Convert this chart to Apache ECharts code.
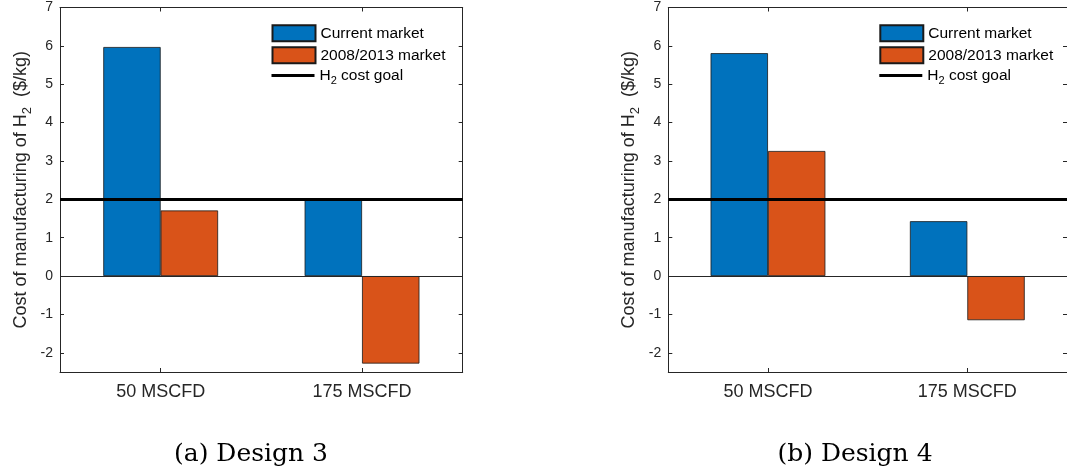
<!DOCTYPE html>
<html><head><meta charset="utf-8">
<script src="https://cdn.jsdelivr.net/npm/echarts@6/dist/echarts.min.js"></script>
<style>html,body{margin:0;padding:0;background:#fff}#c{width:1067px;height:474px}</style>
</head><body><div id="c"></div>
<script>
const categories = ['50 MSCFD', '175 MSCFD'];
const design3Current = [5.97, 2.0];
const design3Past = [1.71, -2.28];
const design4Current = [5.81, 1.43];
const design4Past = [3.26, -1.15];
const goalValue = 2;
const yTicks = [-2, -1, 0, 1, 2, 3, 4, 5, 6, 7];
const captions = ['(a) Design 3', '(b) Design 4'];
const nameCurrent = 'Current market';
const namePast = '2008/2013 market';
const nameGoal = 'H2 cost goal';

const FONT = 'Liberation Sans';
const AX = '#262626';
const BLUE = '#0072BD';
const ORANGE = '#D95319';

const grids = [
  {left: 60, top: 7.5, width: 402.7, height: 364.5},
  {left: 668.3, top: 7.5, width: 403.4, height: 364.5}
];

function xAxes(gi) {
  return [
    {type: 'category', gridIndex: gi, position: 'bottom', data: categories,
     axisLine: {show: true, onZero: false, lineStyle: {color: AX, width: 1}},
     axisTick: {show: true, inside: true, length: 4, alignWithLabel: true, lineStyle: {color: AX}},
     axisLabel: {fontSize: 18, color: AX, margin: 11, fontFamily: FONT},
     splitLine: {show: false}},
    {type: 'category', gridIndex: gi, position: 'top', data: categories,
     axisLine: {show: true, onZero: false, lineStyle: {color: AX, width: 1}},
     axisTick: {show: true, inside: true, length: 4, alignWithLabel: true, lineStyle: {color: AX}},
     axisLabel: {show: false}, splitLine: {show: false}}
  ];
}
function yAxes(gi) {
  return [
    {type: 'value', gridIndex: gi, position: 'left', min: -2.5, max: 7,
     name: '{n|Cost of manufacturing of H}{s|2}{n|  ($/kg)}',
     nameLocation: 'middle', nameGap: 29, nameRotate: 90,
     nameTextStyle: {color: AX, fontFamily: FONT,
       rich: {n: {fontSize: 18, fontFamily: FONT, color: AX, lineHeight: 19, verticalAlign: 'top'},
              s: {fontSize: 13, fontFamily: FONT, color: AX, lineHeight: 13, verticalAlign: 'top', padding: [9, 0, 0, 0]}}},
     axisLine: {show: true, onZero: false, lineStyle: {color: AX, width: 1}},
     axisTick: {show: true, inside: true, length: 4, customValues: yTicks, lineStyle: {color: AX}},
     axisLabel: {fontSize: 14, color: AX, margin: 7, fontFamily: FONT, customValues: yTicks},
     splitLine: {show: false}},
    {type: 'value', gridIndex: gi, position: 'right', min: -2.5, max: 7,
     axisLine: {show: true, onZero: false, lineStyle: {color: AX, width: 1}},
     axisTick: {show: true, inside: true, length: 4, customValues: yTicks, lineStyle: {color: AX}},
     axisLabel: {show: false}, splitLine: {show: false}}
  ];
}

function seriesFor(gi, cur, past) {
  const xi = gi * 2, yi = gi * 2;
  const barCommon = {type: 'bar', xAxisIndex: xi, yAxisIndex: yi, barWidth: 57.4, barGap: '0%',
    emphasis: {disabled: true}, silent: true};
  return [
    Object.assign({}, barCommon, {name: nameCurrent, data: cur,
      itemStyle: {color: BLUE, borderColor: '#1a1a1a', borderWidth: 0.8},
      markLine: {silent: true, symbol: ['none', 'none'], label: {show: false}, animation: false,
        lineStyle: {color: AX, width: 1, type: 'solid'}, emphasis: {disabled: true},
        data: [{yAxis: 0}]}}),
    Object.assign({}, barCommon, {name: namePast, data: past,
      itemStyle: {color: ORANGE, borderColor: '#1a1a1a', borderWidth: 0.8}}),
    {type: 'line', name: nameGoal, xAxisIndex: xi, yAxisIndex: yi, data: [], z: 5,
     itemStyle: {color: '#000'}, lineStyle: {color: '#000', width: 3}, symbol: 'none',
     markLine: {silent: true, symbol: ['none', 'none'], label: {show: false}, animation: false,
       lineStyle: {color: '#000', width: 3, type: 'solid'}, emphasis: {disabled: true},
       data: [{yAxis: goalValue}]}}
  ];
}

function legendsFor(left) {
  return [
    {orient: 'vertical', left: left, top: 24.3, padding: 0, itemWidth: 43, itemHeight: 16, itemGap: 4,
     icon: 'rect', selectedMode: false, data: [nameCurrent, namePast],
     textStyle: {fontSize: 15.5, color: '#000', fontFamily: FONT, lineHeight: 16}},
    {orient: 'vertical', left: left, top: 67.5, padding: 0, itemWidth: 43, itemHeight: 16, itemGap: 4,
     selectedMode: false,
     data: [{name: nameGoal, icon: 'path://M0,0H42V3H0Z', itemStyle: {color: '#000'}}],
     formatter: function () { return '{n|H}{s|2}{n| cost goal}'; },
     textStyle: {fontSize: 15.5, color: '#000', fontFamily: FONT,
       rich: {n: {fontSize: 15.5, fontFamily: FONT, color: '#000', lineHeight: 16, verticalAlign: 'top'},
              s: {fontSize: 11, fontFamily: FONT, color: '#000', lineHeight: 11, verticalAlign: 'top', padding: [8, 0, 0, 0]}}}}
  ];
}

const chart = echarts.init(document.getElementById('c'), null, {renderer: 'canvas'});
chart.setOption({
  animation: false,
  backgroundColor: '#fff',
  textStyle: {fontFamily: FONT},
  grid: grids,
  xAxis: xAxes(0).concat(xAxes(1)),
  yAxis: yAxes(0).concat(yAxes(1)),
  legend: legendsFor(271.5).concat(legendsFor(879.3)),
  series: seriesFor(0, design3Current, design3Past).concat(seriesFor(1, design4Current, design4Past)),
  graphic: [
    {type: 'text', x: 251, y: 454.5, silent: true,
     style: {text: captions[0], align: 'center', verticalAlign: 'middle', fill: '#000',
             font: '25px "DejaVu Serif"'}},
    {type: 'text', x: 855, y: 454.5, silent: true,
     style: {text: captions[1], align: 'center', verticalAlign: 'middle', fill: '#000',
             font: '25px "DejaVu Serif"'}}
  ]
});
</script></body></html>
